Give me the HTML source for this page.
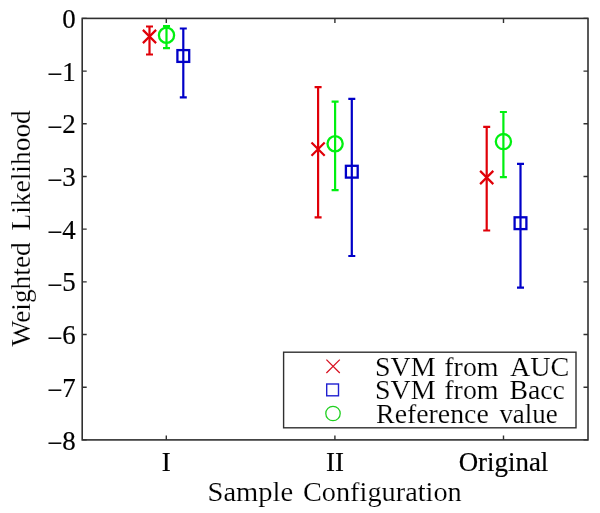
<!DOCTYPE html>
<html><head><meta charset="utf-8"><style>
html,body{margin:0;padding:0;background:#fff;width:600px;height:513px;overflow:hidden}
svg{display:block;will-change:transform}
text{font-family:"Liberation Serif",serif}
</style></head><body>
<svg width="600" height="513" viewBox="0 0 600 513">
<rect width="600" height="513" fill="#fff"/>
<rect x="82.2" y="18.4" width="505.8" height="421.5" fill="none" stroke="#303030" stroke-width="1.6"/>
<path d="M82.2 18.40h4.5M588.0 18.40h-4.5M82.2 71.09h4.5M588.0 71.09h-4.5M82.2 123.78h4.5M588.0 123.78h-4.5M82.2 176.46h4.5M588.0 176.46h-4.5M82.2 229.15h4.5M588.0 229.15h-4.5M82.2 281.84h4.5M588.0 281.84h-4.5M82.2 334.52h4.5M588.0 334.52h-4.5M82.2 387.21h4.5M588.0 387.21h-4.5M82.2 439.90h4.5M588.0 439.90h-4.5M166.30 439.9v-4.5M166.30 18.4v4.5M334.90 439.9v-4.5M334.90 18.4v4.5M503.50 439.9v-4.5M503.50 18.4v4.5" stroke="#303030" stroke-width="1.4" fill="none"/>
<path d="M149.50 26.50V54.50M146.00 26.50H153.00M146.00 54.50H153.00" stroke="#e00008" stroke-width="2.2" fill="none"/>
<path d="M166.50 26.20V48.20M163.00 26.20H170.00M163.00 48.20H170.00" stroke="#00f010" stroke-width="2.2" fill="none"/>
<path d="M183.30 28.50V97.30M179.80 28.50H186.80M179.80 97.30H186.80" stroke="#0000c8" stroke-width="2.2" fill="none"/>
<path d="M142.90 29.90L156.10 43.10M142.90 43.10L156.10 29.90" stroke="#e00008" stroke-width="2.2" fill="none"/>
<circle cx="166.50" cy="35.20" r="7.60" stroke="#00f010" stroke-width="2.3" fill="none"/>
<rect x="177.40" y="50.10" width="11.80" height="11.80" stroke="#0000c8" stroke-width="2.3" fill="none"/>
<path d="M318.10 87.10V217.30M314.60 87.10H321.60M314.60 217.30H321.60" stroke="#e00008" stroke-width="2.2" fill="none"/>
<path d="M335.10 101.60V190.20M331.60 101.60H338.60M331.60 190.20H338.60" stroke="#00f010" stroke-width="2.2" fill="none"/>
<path d="M351.80 98.80V256.00M348.30 98.80H355.30M348.30 256.00H355.30" stroke="#0000c8" stroke-width="2.2" fill="none"/>
<path d="M311.50 142.50L324.70 155.70M311.50 155.70L324.70 142.50" stroke="#e00008" stroke-width="2.2" fill="none"/>
<circle cx="335.10" cy="143.70" r="7.60" stroke="#00f010" stroke-width="2.3" fill="none"/>
<rect x="345.90" y="165.80" width="11.80" height="11.80" stroke="#0000c8" stroke-width="2.3" fill="none"/>
<path d="M486.70 126.90V230.50M483.20 126.90H490.20M483.20 230.50H490.20" stroke="#e00008" stroke-width="2.2" fill="none"/>
<path d="M503.40 112.00V177.20M499.90 112.00H506.90M499.90 177.20H506.90" stroke="#00f010" stroke-width="2.2" fill="none"/>
<path d="M520.50 163.90V287.60M517.00 163.90H524.00M517.00 287.60H524.00" stroke="#0000c8" stroke-width="2.2" fill="none"/>
<path d="M480.10 170.90L493.30 184.10M480.10 184.10L493.30 170.90" stroke="#e00008" stroke-width="2.2" fill="none"/>
<circle cx="503.40" cy="141.60" r="7.60" stroke="#00f010" stroke-width="2.3" fill="none"/>
<rect x="514.60" y="217.30" width="11.80" height="11.80" stroke="#0000c8" stroke-width="2.3" fill="none"/>
<g font-family="Liberation Serif" font-size="26.9" fill="#000" stroke="#000" stroke-width="0.2"><text x="75.8" y="28.00" text-anchor="end">0</text><text x="75.8" y="80.69" text-anchor="end"><tspan dy="2.5">−</tspan><tspan dy="-2.5">1</tspan></text><text x="75.8" y="133.38" text-anchor="end"><tspan dy="2.5">−</tspan><tspan dy="-2.5">2</tspan></text><text x="75.8" y="186.06" text-anchor="end"><tspan dy="2.5">−</tspan><tspan dy="-2.5">3</tspan></text><text x="75.8" y="238.75" text-anchor="end"><tspan dy="2.5">−</tspan><tspan dy="-2.5">4</tspan></text><text x="75.8" y="291.44" text-anchor="end"><tspan dy="2.5">−</tspan><tspan dy="-2.5">5</tspan></text><text x="75.8" y="344.12" text-anchor="end"><tspan dy="2.5">−</tspan><tspan dy="-2.5">6</tspan></text><text x="75.8" y="396.81" text-anchor="end"><tspan dy="2.5">−</tspan><tspan dy="-2.5">7</tspan></text><text x="75.8" y="449.50" text-anchor="end"><tspan dy="2.5">−</tspan><tspan dy="-2.5">8</tspan></text></g>
<g font-family="Liberation Serif" font-size="26.9" fill="#000" stroke="#000" stroke-width="0.2"><text x="166.30" y="471" text-anchor="middle">I</text><text x="334.90" y="471" text-anchor="middle">II</text><text x="503.50" y="471" text-anchor="middle">Original</text></g>
<g font-family="Liberation Serif" font-size="27.8" stroke="#fff" stroke-width="0.15"><text x="207.59" y="501" textLength="85.60" lengthAdjust="spacingAndGlyphs">Sample</text><text x="302.94" y="501" textLength="158.79" lengthAdjust="spacingAndGlyphs">Configuration</text></g>
<g transform="translate(30.2 347.0) rotate(-90)" font-family="Liberation Serif" font-size="26.5" stroke="#fff" stroke-width="0.15"><text x="0.57" y="0" textLength="104.15" lengthAdjust="spacingAndGlyphs">Weighted</text><text x="116.41" y="0" textLength="120.43" lengthAdjust="spacingAndGlyphs">Likelihood</text></g>
<rect x="283.6" y="352.2" width="292.4" height="75.6" fill="#fff" stroke="#303030" stroke-width="1.4"/>
<path d="M326.40 359.60L339.80 373.00M326.40 373.00L339.80 359.60" stroke="#d81020" stroke-width="1.25" fill="none"/>
<rect x="326.70" y="384.00" width="11.80" height="11.80" stroke="#2020d0" stroke-width="1.4" fill="none"/>
<circle cx="333.00" cy="413.50" r="7.20" stroke="#20d020" stroke-width="1.3" fill="none"/>
<g font-family="Liberation Serif" font-size="26.5" fill="#000" stroke="#fff" stroke-width="0.15"><text x="375.03" y="375.5" textLength="60.59" lengthAdjust="spacingAndGlyphs">SVM</text><text x="444.34" y="375.5" textLength="54.19" lengthAdjust="spacingAndGlyphs">from</text><text x="509.93" y="375.5" textLength="59.43" lengthAdjust="spacingAndGlyphs">AUC</text><text x="375.03" y="398.9" textLength="60.59" lengthAdjust="spacingAndGlyphs">SVM</text><text x="444.34" y="398.9" textLength="54.19" lengthAdjust="spacingAndGlyphs">from</text><text x="509.40" y="398.9" textLength="55.45" lengthAdjust="spacingAndGlyphs">Bacc</text><text x="376.10" y="422.6" textLength="112.66" lengthAdjust="spacingAndGlyphs">Reference</text><text x="499.40" y="422.6" textLength="58.33" lengthAdjust="spacingAndGlyphs">value</text></g>
</svg>
</body></html>
